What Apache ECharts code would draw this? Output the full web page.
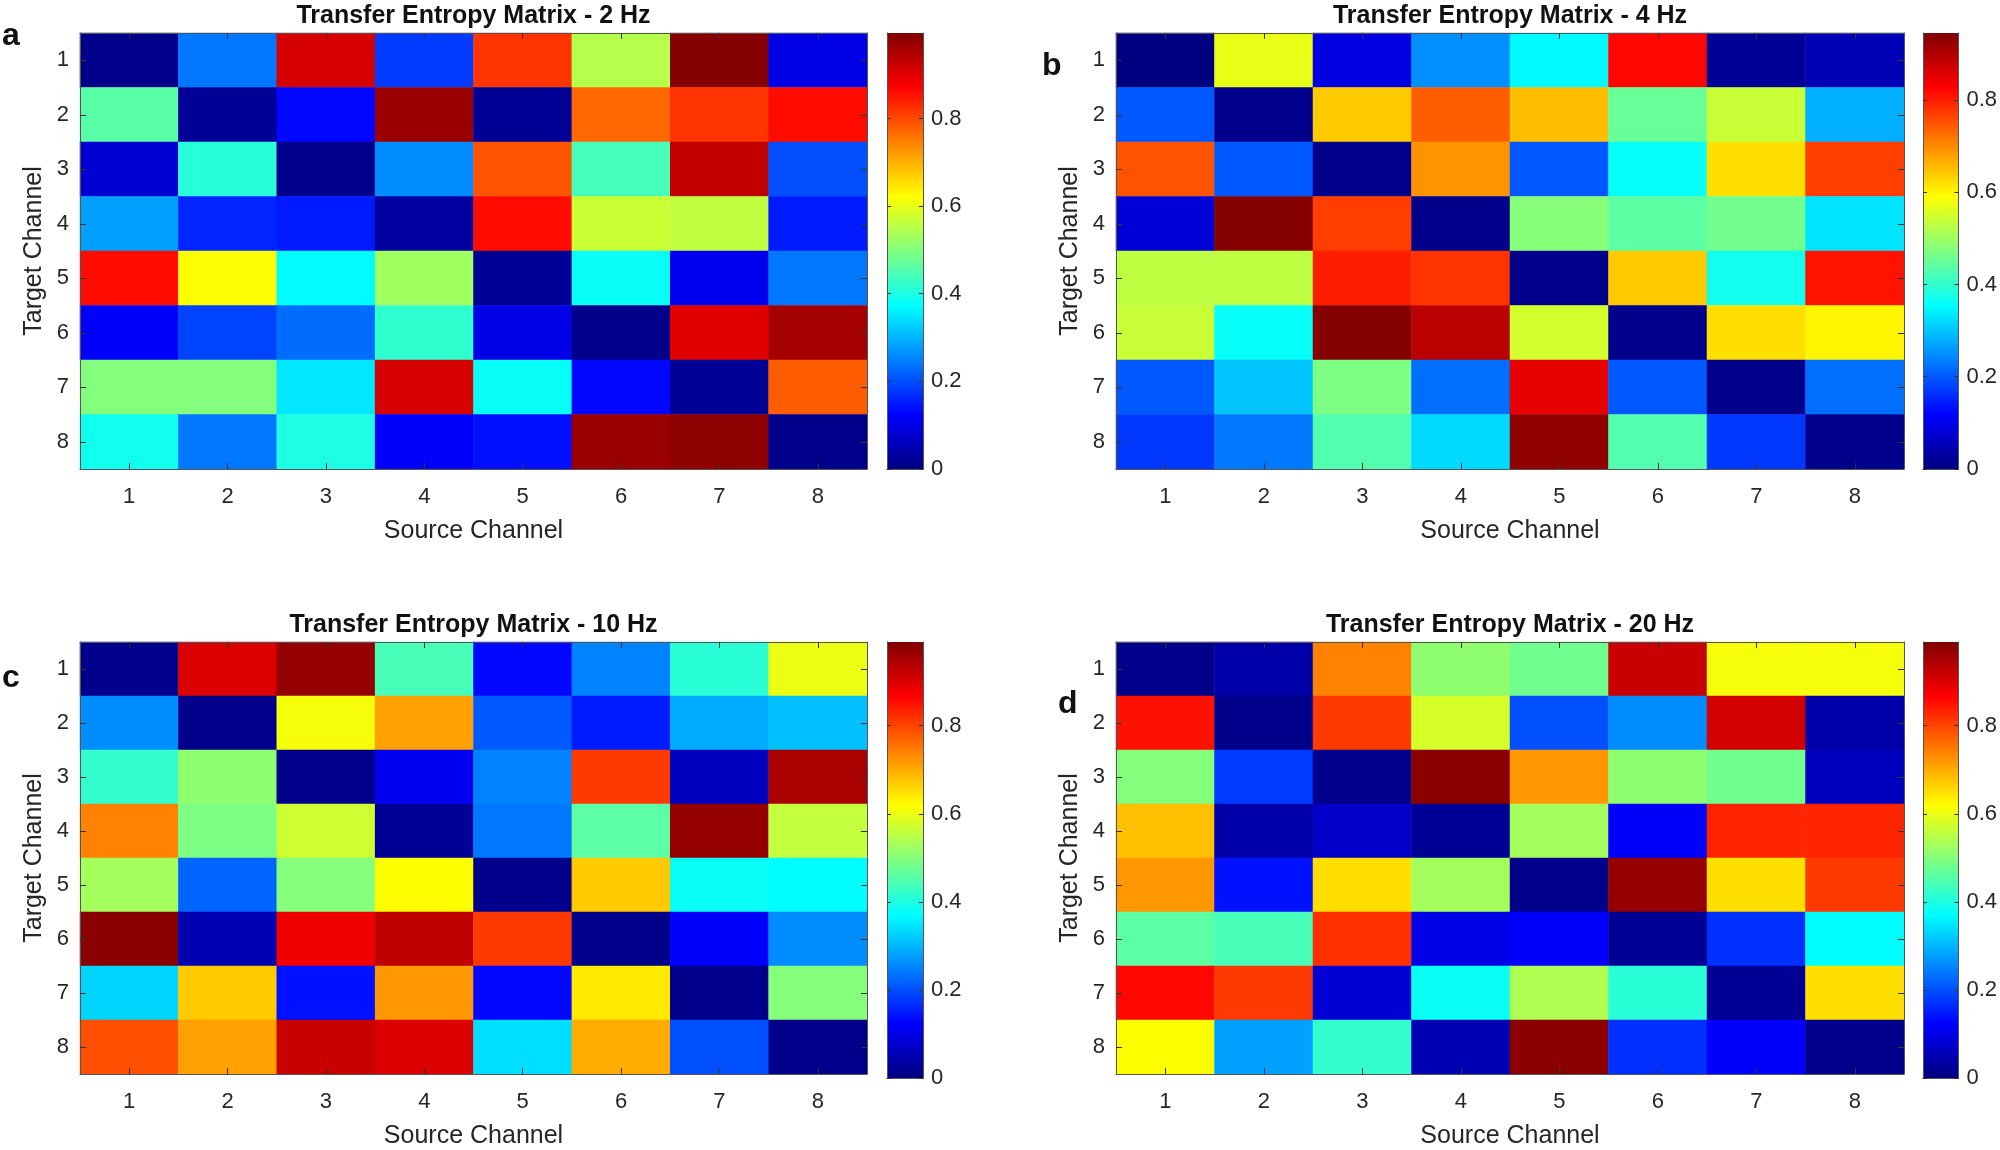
<!DOCTYPE html>
<html><head><meta charset="utf-8">
<script src="https://cdn.jsdelivr.net/npm/echarts@6/dist/echarts.min.js"></script>
<style>html,body{margin:0;padding:0;background:#fff}#c{width:2000px;height:1150px}</style>
</head><body><div id="c"></div>
<script>
const channels = ['1','2','3','4','5','6','7','8'];
const colorbarTicks = [0, 0.2, 0.4, 0.6, 0.8];
const titles = ['Transfer Entropy Matrix - 2 Hz','Transfer Entropy Matrix - 4 Hz','Transfer Entropy Matrix - 10 Hz','Transfer Entropy Matrix - 20 Hz'];
const panelLetters = ['a','b','c','d'];
const colorMax = [0.995, 0.945, 0.99, 0.99];
// rows = target channel 1..8, columns = source channel 1..8
const te2Hz = [
 [0.01,0.24,0.91,0.18,0.82,0.55,0.99,0.10],
 [0.46,0.02,0.13,0.97,0.02,0.77,0.82,0.86],
 [0.08,0.41,0.01,0.26,0.79,0.44,0.93,0.20],
 [0.28,0.16,0.15,0.03,0.86,0.57,0.56,0.15],
 [0.86,0.62,0.37,0.53,0.02,0.38,0.11,0.24],
 [0.12,0.19,0.23,0.42,0.10,0.01,0.90,0.96],
 [0.50,0.50,0.35,0.91,0.38,0.13,0.02,0.78],
 [0.39,0.24,0.40,0.12,0.14,0.97,0.98,0.01]
];
const te4Hz = [
 [0.00,0.57,0.09,0.25,0.35,0.82,0.02,0.05],
 [0.20,0.01,0.64,0.74,0.65,0.45,0.54,0.28],
 [0.75,0.20,0.01,0.69,0.20,0.36,0.62,0.77],
 [0.08,0.94,0.77,0.01,0.48,0.44,0.46,0.33],
 [0.53,0.53,0.80,0.78,0.01,0.64,0.37,0.81],
 [0.54,0.36,0.94,0.89,0.55,0.01,0.62,0.60],
 [0.20,0.30,0.47,0.22,0.85,0.20,0.01,0.22],
 [0.17,0.23,0.43,0.32,0.93,0.43,0.17,0.01]
];
const te10Hz = [
 [0.01,0.90,0.97,0.44,0.13,0.25,0.41,0.60],
 [0.26,0.01,0.61,0.71,0.21,0.15,0.29,0.31],
 [0.42,0.51,0.01,0.11,0.25,0.81,0.06,0.95],
 [0.74,0.49,0.57,0.02,0.24,0.46,0.97,0.56],
 [0.53,0.22,0.50,0.62,0.01,0.67,0.38,0.37],
 [0.98,0.05,0.88,0.93,0.81,0.01,0.12,0.26],
 [0.33,0.67,0.14,0.72,0.13,0.64,0.01,0.50],
 [0.79,0.71,0.92,0.90,0.34,0.70,0.20,0.01]
];
const te20Hz = [
 [0.01,0.04,0.74,0.51,0.48,0.92,0.61,0.61],
 [0.85,0.01,0.81,0.58,0.20,0.26,0.91,0.04],
 [0.50,0.18,0.01,0.98,0.72,0.51,0.48,0.06],
 [0.68,0.04,0.07,0.02,0.53,0.12,0.83,0.83],
 [0.72,0.14,0.65,0.53,0.01,0.97,0.65,0.81],
 [0.46,0.44,0.82,0.10,0.12,0.02,0.17,0.37],
 [0.86,0.81,0.08,0.38,0.54,0.41,0.02,0.65],
 [0.62,0.28,0.42,0.05,0.98,0.17,0.12,0.01]
];
const matrices = [te2Hz, te4Hz, te10Hz, te20Hz];

const jet = ['#000080','#0000ff','#0080ff','#00ffff','#80ff80','#ffff00','#ff8000','#ff0000','#800000'];
const FONT = 'Liberation Sans, Arial, sans-serif';
const TXT = '#262626';

// layout (pixels)
const panels = [
 {l:80,  r:867,  t:33,  b:469, cbL:887,  cbR:923,  letter:[2,36]},
 {l:1116,r:1904, t:33,  b:469, cbL:1923, cbR:1960, letter:[1042,66]},
 {l:80,  r:867,  t:642, b:1078,cbL:887,  cbR:923,  letter:[2,678]},
 {l:1116,r:1904, t:642, b:1078,cbL:1923, cbR:1960, letter:[1058,704]}
];

const grid=[], xAxis=[], yAxis=[], series=[], visualMap=[], graphic=[];
const tickStyle = {show:true, inside:true, length:6, lineStyle:{color:'#333'}};
const lineStyle = {show:true, lineStyle:{color:'#555', width:1}};
panels.forEach((p,i)=>{
  const M = colorMax[i];
  const gH = grid.length;
  grid.push({left:p.l, top:p.t, width:p.r-p.l, height:p.b-p.t});
  const gC = grid.length;
  grid.push({left:p.cbL, top:p.t, width:p.cbR-p.cbL, height:p.b-p.t});

  const xH = xAxis.length;
  xAxis.push({type:'category', gridIndex:gH, data:channels, position:'bottom', name:'Source Channel', nameLocation:'middle', nameGap:50,
    nameTextStyle:{fontFamily:FONT, fontSize:25, color:TXT},
    axisLabel:{fontFamily:FONT, fontSize:22, color:TXT, margin:17},
    axisTick:Object.assign({alignWithLabel:true}, tickStyle), axisLine:lineStyle, splitLine:{show:false}, z:10});
  xAxis.push({type:'category', gridIndex:gH, data:channels, position:'top', axisLabel:{show:false},
    axisTick:Object.assign({alignWithLabel:true}, tickStyle), axisLine:lineStyle, z:10});
  const yH = yAxis.length;
  yAxis.push({type:'category', gridIndex:gH, data:channels, inverse:true, position:'left', name:'Target Channel', nameLocation:'middle', nameGap:33,
    nameTextStyle:{fontFamily:FONT, fontSize:25, color:TXT},
    axisLabel:{fontFamily:FONT, fontSize:22, color:TXT, margin:11},
    axisTick:Object.assign({alignWithLabel:true}, tickStyle), axisLine:lineStyle, splitLine:{show:false}, z:10});
  yAxis.push({type:'category', gridIndex:gH, data:channels, inverse:true, position:'right', axisLabel:{show:false},
    axisTick:Object.assign({alignWithLabel:true}, tickStyle), axisLine:lineStyle, z:10});

  const data=[];
  matrices[i].forEach((row,r)=>row.forEach((v,c)=>data.push([c,r,v])));
  const sH = series.length;
  series.push({type:'heatmap', xAxisIndex:xH, yAxisIndex:yH, data, itemStyle:{borderWidth:0}, emphasis:{disabled:true}, progressive:0});
  visualMap.push({type:'continuous', show:false, min:0, max:M, seriesIndex:sH, dimension:2, inRange:{color:jet}});

  // colorbar
  const xC = xAxis.length;
  xAxis.push({type:'category', gridIndex:gC, data:['cb'], show:false});
  xAxis.push({type:'category', gridIndex:gC, data:['cb'], position:'top', axisLabel:{show:false}, axisTick:{show:false}, axisLine:lineStyle});
  const yC = yAxis.length;
  yAxis.push({type:'value', gridIndex:gC, min:0, max:M, interval:0.2, position:'right',
    axisLabel:{fontFamily:FONT, fontSize:22, color:TXT, margin:8, formatter:v=>{const r=Math.round(v*10)/10; return colorbarTicks.includes(r)?String(r):'';}},
    axisTick:{show:true, inside:true, length:4, lineStyle:{color:'#333'}}, axisLine:lineStyle, splitLine:{show:false}, z:10});
  yAxis.push({type:'value', gridIndex:gC, min:0, max:M, interval:0.2, position:'left', axisLabel:{show:false},
    axisTick:{show:true, inside:true, length:4, lineStyle:{color:'#333'}}, axisLine:lineStyle, splitLine:{show:false}, z:10});
  xAxis.push({type:'category', gridIndex:gC, data:['cb'], position:'bottom', axisLabel:{show:false}, axisTick:{show:false}, axisLine:lineStyle});
  series.push({type:'bar', xAxisIndex:xC, yAxisIndex:yC, data:[M], barWidth:'100%', silent:true,
    itemStyle:{color:new echarts.graphic.LinearGradient(0,1,0,0, jet.map((c,k)=>({offset:k/(jet.length-1), color:c})))}});

  graphic.push({type:'text', x:(p.l+p.r)/2, y:p.t-29, style:{text:titles[i], font:'bold 25px '+FONT, fill:'#111', textAlign:'center', textVerticalAlign:'top'}});
  graphic.push({type:'text', x:p.letter[0], y:p.letter[1], style:{text:panelLetters[i], font:'bold 32px '+FONT, fill:'#111', textVerticalAlign:'middle'}});
});

const chart = echarts.init(document.getElementById('c'), null, {renderer:'canvas'});
chart.setOption({animation:false, backgroundColor:'#fff', grid, xAxis, yAxis, series, visualMap, graphic});
</script></body></html>
